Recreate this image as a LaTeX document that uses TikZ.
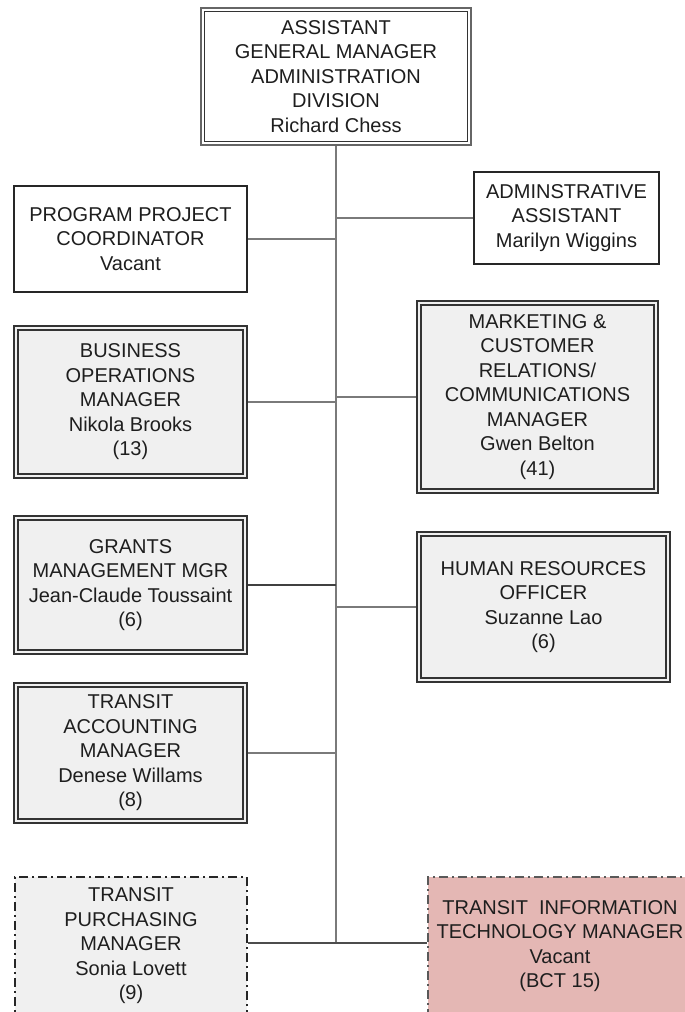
\documentclass[tikz,border=0pt]{standalone}
\usepackage{fontspec}
\setmainfont{Liberation Sans}
\definecolor{txt}{HTML}{1E1E1E}
\definecolor{boxgray}{HTML}{F0F0F0}
\definecolor{linegray}{HTML}{7A7A7A}
\definecolor{itpink}{HTML}{E4B7B4}
\begin{document}
\begin{tikzpicture}[x=1pt,y=-1pt,
  every node/.style={font=\fontsize{20}{24.5}\selectfont, text=txt, align=center, inner sep=0pt},
  sbox/.style={draw=black!85, line width=1.6pt, fill=white},
  dbox/.style={draw=black!80, line width=2pt, fill=boxgray},
  topbox/.style={draw=black!60, line width=2.6pt, fill=white},
  dashbox/.style={draw=black!85, line width=1.6pt, dash pattern=on 9pt off 4pt on 2pt off 4pt},
  conn/.style={draw=linegray, line width=2pt},
  innerline/.style={draw=black!80, line width=1.2pt}]
\useasboundingbox (0,0) rectangle (685,1012);
% boxes
\node[topbox, minimum width=270, minimum height=137] (top) at (336,76.5)
  {ASSISTANT\\GENERAL MANAGER\\ADMINISTRATION\\DIVISION\\Richard Chess};
\node[sbox, minimum width=233, minimum height=106] (ppc) at (130.5,239)
  {PROGRAM PROJECT\\COORDINATOR\\Vacant};
\node[dbox, minimum width=233, minimum height=152] (bus) at (130.5,402)
  {BUSINESS\\OPERATIONS\\MANAGER\\Nikola Brooks\\(13)};
\node[dbox, minimum width=233, minimum height=138] (gr) at (130.5,585)
  {GRANTS\\MANAGEMENT MGR\\Jean-Claude Toussaint\\(6)};
\node[dbox, minimum width=233, minimum height=140] (acc) at (130.5,753)
  {TRANSIT\\ACCOUNTING\\MANAGER\\Denese Willams\\(8)};
\node[dashbox, fill=boxgray, minimum width=232, minimum height=138] (pur) at (131,946)
  {TRANSIT\\PURCHASING\\MANAGER\\Sonia Lovett\\(9)};
\node[sbox, minimum width=185, minimum height=92] (adm) at (566.5,218)
  {ADMINSTRATIVE\\ASSISTANT\\Marilyn Wiggins};
\node[dbox, minimum width=241, minimum height=192] (mkt) at (537.5,397)
  {MARKETING \&\\CUSTOMER\\RELATIONS/\\COMMUNICATIONS\\MANAGER\\Gwen Belton\\(41)};
\node[dbox, minimum width=253, minimum height=150] (hr) at (543.5,607)
  {HUMAN RESOURCES\\OFFICER\\Suzanne Lao\\(6)};
\node[dashbox, draw=black!65, fill=itpink, minimum width=264, minimum height=138] (it) at (560,946)
  {TRANSIT\ \ INFORMATION\\TECHNOLOGY MANAGER\\Vacant\\(BCT 15)};
% inner borders of the double-lined boxes
\foreach \n in {top,bus,gr,acc,mkt,hr}
  \draw[innerline] ([shift={(5,5)}]\n.north west) rectangle ([shift={(-5,-5)}]\n.south east);
% connectors
\coordinate (trunkbot) at (336,943);
\draw[conn] (top.south) -- (trunkbot);
\draw[conn] (ppc.east) -- (ppc.east -| top.south);
\draw[conn] (bus.east) -- (bus.east -| top.south);
\draw[conn, draw=black!75] (gr.east) -- (gr.east -| top.south);
\draw[conn] (acc.east) -- (acc.east -| top.south);
\draw[conn] (adm.west) -- (adm.west -| top.south);
\draw[conn] (mkt.west) -- (mkt.west -| top.south);
\draw[conn] (hr.west) -- (hr.west -| top.south);
\draw[conn, draw=black!70] (pur.east |- trunkbot) -- (it.west |- trunkbot);
\end{tikzpicture}
\end{document}
